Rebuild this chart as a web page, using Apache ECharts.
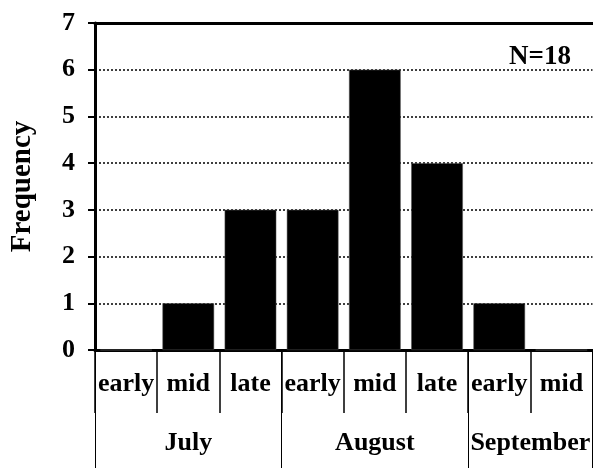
<!DOCTYPE html>
<html>
<head>
<meta charset="utf-8">
<script src="https://cdn.jsdelivr.net/npm/echarts@6/dist/echarts.min.js"></script>
<style>html,body{margin:0;padding:0;background:#fff}#c{width:593px;height:468px}</style>
</head>
<body>
<div id="c"></div>
<script>
const periods = ['early','mid','late','early','mid','late','early','mid'];
const frequency = [0,1,3,3,6,4,1,0];
const months = ['July','August','September'];
const monthCenters = [1.5,4.5,7];
const monthBounds = [0,3,6,8];
const yTicks = [0,1,2,3,4,5,6,7];
const noteText = 'N=18';

const FONT = 'Liberation Serif';
const chart = echarts.init(document.getElementById('c'));
chart.setOption({
  animation:false,
  backgroundColor:'#fff',
  title:{text:noteText,left:504,top:39,textStyle:{fontFamily:FONT,fontWeight:'bold',fontSize:27,color:'#000'}},
  grid:{left:93,right:-1,top:23,bottom:118,containLabel:false},
  xAxis:[
    {type:'category',data:periods,position:'bottom',boundaryGap:true,
     axisLine:{show:true,lineStyle:{color:'#000',width:3}},
     axisTick:{show:true,interval:0,alignWithLabel:false,length:63,lineStyle:{color:'#000',width:1.5}},
     axisLabel:{interval:0,margin:21,fontFamily:FONT,fontWeight:'bold',fontSize:26,color:'#000'},
     splitLine:{show:false}},
    {type:'value',min:0,max:8,position:'bottom',offset:0,
     axisLine:{show:false},
     axisTick:{show:true,customValues:monthBounds,length:118,lineStyle:{color:'#000',width:1}},
     axisLabel:{customValues:monthCenters,margin:80,fontFamily:FONT,fontWeight:'bold',fontSize:26,color:'#000',
       formatter:function(v){const i=monthCenters.indexOf(v);return i>=0?months[i]:'';}},
     splitLine:{show:false}},
    {type:'category',data:periods,position:'top',
     axisLine:{show:true,lineStyle:{color:'#000',width:3}},
     axisTick:{show:false},axisLabel:{show:false},splitLine:{show:false}}
  ],
  yAxis:{type:'value',min:0,max:7,interval:1,
    name:'Frequency',nameLocation:'middle',nameGap:58,nameRotate:90,
    nameTextStyle:{fontFamily:FONT,fontWeight:'bold',fontSize:29,color:'#000'},
    axisLine:{show:true,lineStyle:{color:'#000',width:3}},
    axisTick:{show:true,length:7,lineStyle:{color:'#000',width:2}},
    axisLabel:{margin:20,fontFamily:FONT,fontWeight:'bold',fontSize:26,color:'#000',
      formatter:function(v){return yTicks.indexOf(v)>=0?String(v):'';}},
    splitLine:{show:true,lineStyle:{color:'#000',width:1.5,type:[2,2]}}
  },
  series:[{type:'bar',xAxisIndex:0,data:frequency,barCategoryGap:'17%',
    itemStyle:{color:'#000',borderColor:'#555',borderWidth:0.5},z:3}]
});
</script>
</body>
</html>
